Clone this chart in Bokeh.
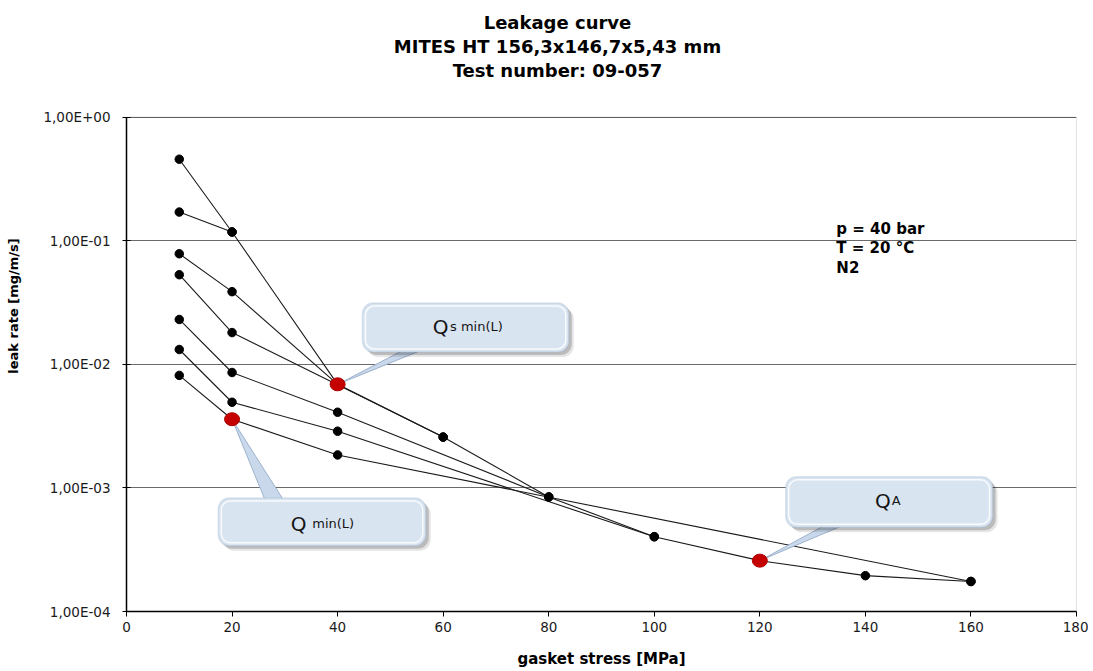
from bokeh.plotting import figure
from bokeh.models import Range1d, FixedTicker, CustomJSTickFormatter, Label, BoxAnnotation
from bokeh.embed import file_html
from bokeh.resources import INLINE

# ---------------- data ----------------
stress_ticks = [0, 20, 40, 60, 80, 100, 120, 140, 160, 180]
leak_ticks = [1e-4, 1e-3, 1e-2, 1e-1, 1e0]

title_lines = ["Leakage curve", "MITES HT 156,3x146,7x5,43 mm", "Test number: 09-057"]
conditions = ["p = 40 bar", "T = 20 °C", "N2"]

loading_x = [10, 20, 40, 60, 80, 100, 120, 140, 160]
loading_y = [0.458, 0.118, 0.0069, 0.00258, 0.000846, 0.000403, 0.000258, 0.000195, 0.000175]
unload_20_x = [20, 10]
unload_20_y = [0.118, 0.171]
unload_40_x = [40, 20, 10]
unload_40_y = [0.0069, 0.0388, 0.0786]
unload_60_x = [60, 20, 10]
unload_60_y = [0.00258, 0.0181, 0.0532]
unload_80_x = [80, 40, 20, 10]
unload_80_y = [0.000846, 0.0041, 0.0086, 0.0231]
unload_100_x = [100, 40, 20, 10]
unload_100_y = [0.000403, 0.00288, 0.00494, 0.0132]
unload_160_x = [160, 40, 20, 10]
unload_160_y = [0.000175, 0.00185, 0.0036, 0.00815]

marked_x = [40, 20, 120]
marked_y = [0.0069, 0.0036, 0.000258]

callout_main = ["Q", "Q", "Q"]
callout_sub = ["s min(L)", "min(L)", "A"]
# callout geometry in data units (x: MPa, y: mg/m/s)
callout_left = [44.7, 17.4, 124.9]
callout_right = [83.8, 56.7, 164.1]
callout_top = [0.0314, 0.00083, 0.00123]
callout_bottom = [0.0126, 0.00034, 0.00048]
callout_base_x0 = [55.2, 26.8, 134.8]
callout_base_x1 = [59.4, 30.6, 139.0]
callout_base_y = [0.0150, 0.00070, 0.00057]
callout_q_x = [61.0, 34.1, 144.8]
callout_sub_x = [61.3, 35.2, 145.0]
callout_text_y = [0.0201, 0.000515, 0.000789]

# positions (data units) of the texts above / inside the chart
cond_x = 134.5
cond_y = [0.1244, 0.0873, 0.0602]
title_x = 81.66
title_y = [5.87, 3.76, 2.41]

FONT = "DejaVu Sans"

series = [
    (loading_x, loading_y),
    (unload_20_x, unload_20_y),
    (unload_40_x, unload_40_y),
    (unload_60_x, unload_60_y),
    (unload_80_x, unload_80_y),
    (unload_100_x, unload_100_y),
    (unload_160_x, unload_160_y),
]

# layout: plot box 950 x 495 px, four decades; the frame is extended upwards
# (white, no axis) so that the title lines can live inside it
W, H = 1088, 670
BOX_L, BOX_R, BOX_B = 126, 1076, 612
DECADE_PX = 495.0 / 4.0
y_top = 10 ** (BOX_B / DECADE_PX - 4.0)

p = figure(width=W, height=H, y_axis_type="log",
           x_range=Range1d(0, 180), y_range=Range1d(1e-4, y_top),
           output_backend="svg", toolbar_location=None,
           min_border_left=BOX_L, min_border_right=W - BOX_R,
           min_border_top=0, min_border_bottom=H - BOX_B)
p.title.visible = False
p.background_fill_color = "white"
p.border_fill_color = "white"
p.outline_line_color = None

# plot box outline (0..180 x 1e-4..1)
p.add_layout(BoxAnnotation(left=0, right=180, bottom=1e-4, top=1,
                           fill_color=None, line_color="#404040", line_width=1,
                           level="underlay"))

# axes
p.xaxis.ticker = FixedTicker(ticks=stress_ticks)
p.yaxis.ticker = FixedTicker(ticks=leak_ticks)
p.yaxis.bounds = (1e-4, 1)
p.yaxis.formatter = CustomJSTickFormatter(code="""
const e = Math.round(Math.log10(tick));
const s = e < 0 ? "-" : "+";
const a = Math.abs(e);
return "1,00E" + s + (a < 10 ? "0" : "") + a;
""")
for ax in (p.xaxis[0], p.yaxis[0]):
    ax.axis_line_color = "black"
    ax.axis_line_width = 1.5
    ax.major_tick_line_color = "black"
    ax.minor_tick_line_color = None
    ax.major_label_text_font = FONT
    ax.major_label_text_font_size = "13.5px"
    ax.major_label_text_color = "#1a1a1a"
    ax.axis_label_text_font = FONT
    ax.axis_label_text_font_style = "bold"
    ax.axis_label_text_color = "black"

p.xaxis.axis_label = "gasket stress [MPa]"
p.xaxis.axis_label_text_font_size = "15px"
p.xaxis.major_tick_in = 0
p.xaxis.major_tick_out = 5
p.xaxis.major_label_standoff = 5
p.xaxis.axis_label_standoff = 15

p.yaxis.axis_label = "leak rate [mg/m/s]"
p.yaxis.axis_label_text_font_size = "13px"
p.yaxis.major_tick_in = 4
p.yaxis.major_tick_out = 4
p.yaxis.major_label_standoff = 12
p.yaxis.axis_label_standoff = 19

p.xgrid.grid_line_color = None
p.ygrid.grid_line_color = "#6a6a6a"
p.ygrid.grid_line_width = 1
p.ygrid.ticker = FixedTicker(ticks=leak_ticks)

# curves
all_x, all_y = [], []
for sx, sy in series:
    p.line(sx, sy, line_color="#1a1a1a", line_width=1.1)
    all_x += sx
    all_y += sy
p.scatter(all_x, all_y, size=8.5, fill_color="black", line_color="black")

# callout pointers (glyphs, under the boxes)
for i in range(3):
    p.patch([callout_base_x0[i], marked_x[i], callout_base_x1[i]],
            [callout_base_y[i], marked_y[i], callout_base_y[i]],
            fill_color="#c9d8ea", line_color="#9db2cc", line_width=1)

# red markers
p.ellipse(marked_x, marked_y, width=15, height=13,
          width_units="screen", height_units="screen",
          fill_color="#c40000", line_color="#b00000")

# callout boxes
px_x = 180.0 / (BOX_R - BOX_L)      # data units per pixel along x
px_y = 10 ** (1.0 / DECADE_PX)      # log factor per pixel along y
for i in range(3):
    for off, alpha in ((5, 0.10), (3, 0.18)):
        p.add_layout(BoxAnnotation(
            left=callout_left[i] + off * px_x, right=callout_right[i] + off * px_x,
            top=callout_top[i] / px_y ** off, bottom=callout_bottom[i] / px_y ** off,
            fill_color="black", fill_alpha=alpha, line_color=None,
            border_radius=11, level="annotation"))
    p.add_layout(BoxAnnotation(
        left=callout_left[i], right=callout_right[i],
        top=callout_top[i], bottom=callout_bottom[i],
        fill_color="#d9e4f1", fill_alpha=1.0, line_color="#9db2cc",
        line_width=1.5, border_radius=11, level="annotation"))
    p.add_layout(BoxAnnotation(
        left=callout_left[i] + 3 * px_x, right=callout_right[i] - 3 * px_x,
        top=callout_top[i] / px_y ** 3, bottom=callout_bottom[i] * px_y ** 3,
        fill_color=None, line_color="white", line_alpha=0.85,
        line_width=1.5, border_radius=9, level="annotation"))
    p.add_layout(Label(x=callout_q_x[i], y=callout_text_y[i], text=callout_main[i],
                       text_align="right", text_baseline="alphabetic",
                       text_font=FONT, text_font_size="20px", text_color="#151515"))
    p.add_layout(Label(x=callout_sub_x[i], y=callout_text_y[i], text=callout_sub[i],
                       text_align="left", text_baseline="alphabetic",
                       text_font=FONT, text_font_size="13px", text_color="#151515"))

# test conditions
for t, yy in zip(conditions, cond_y):
    p.add_layout(Label(x=cond_x, y=yy, text=t, text_align="left", text_baseline="middle",
                       text_font=FONT, text_font_size="15px", text_font_style="bold",
                       text_color="black"))

# title (three centred lines above the plot box)
for t, yy in zip(title_lines, title_y):
    p.add_layout(Label(x=title_x, y=yy, text=t, text_align="center", text_baseline="middle",
                       text_font=FONT, text_font_size="18px", text_font_style="bold",
                       text_color="black"))

open("out.html", "w").write(file_html(p, INLINE))
